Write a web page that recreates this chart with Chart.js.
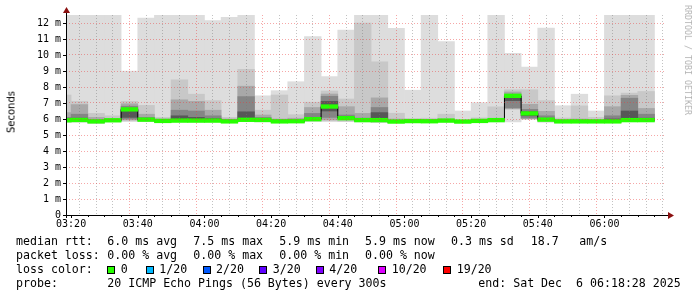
<!DOCTYPE html>
<html><head><meta charset="utf-8">
<script src="https://cdn.jsdelivr.net/npm/chart.js@4.4.1/dist/chart.umd.min.js"></script>
<style>
html,body{margin:0;padding:0;background:#fff;}
#wrap{position:relative;width:697px;height:297px;overflow:hidden;background:#fff;}
canvas{position:absolute;left:0;top:0;}
.t{position:absolute;font-family:'DejaVu Sans Mono',monospace;font-size:11.6px;line-height:14px;white-space:pre;color:#000;}
.box{position:absolute;width:6px;height:6px;border:1px solid #000;}
#ylab{position:absolute;font-family:'DejaVu Sans',sans-serif;font-size:10px;color:#000;transform:translate(-50%,-50%) rotate(-90deg);left:11px;top:112px;white-space:pre;}
#wm{position:absolute;font-family:'DejaVu Sans Mono',monospace;font-size:8.3px;color:#b4b4b4;transform:translate(-50%,-50%) rotate(90deg);left:688px;top:60px;white-space:pre;}
</style></head><body>
<div id="wrap"><canvas id="c" width="697" height="297"></canvas>
<div id="ylab">Seconds</div><div id="wm">RRDTOOL / TOBI OETIKER</div>
</div>
<script>
// ---- data (5-minute slots, values in ms) ----
const slots = ['03:15','03:20','03:25','03:30','03:35','03:40','03:45','03:50','03:55','04:00','04:05','04:10','04:15','04:20','04:25','04:30','04:35','04:40','04:45','04:50','04:55','05:00','05:05','05:10','05:15','05:20','05:25','05:30','05:35','05:40','05:45','05:50','05:55','06:00','06:05','06:10'];
const median = [5.92,5.94,5.85,5.92,6.60,5.96,5.88,5.90,5.90,5.90,5.85,5.95,5.94,5.85,5.86,5.99,6.78,6.05,5.93,5.93,5.84,5.87,5.86,5.90,5.84,5.88,5.93,7.45,6.35,5.96,5.85,5.85,5.85,5.85,5.93,5.93];
const pingMin = [5.80,5.80,5.72,5.82,5.83,5.83,5.82,5.83,5.82,5.82,5.78,5.85,5.82,5.80,5.80,5.85,5.83,5.83,5.82,5.77,5.80,5.80,5.80,5.82,5.78,5.80,5.82,5.82,5.98,5.80,5.80,5.80,5.80,5.80,5.85,5.85];
const pingMax = [13,13,13,13,9.0,12.3,13,13,13,12.15,12.35,13,7.45,7.77,8.33,11.15,8.65,11.55,13,13,11.67,7.8,13,10.84,6.5,7.02,13,10.1,9.25,11.68,6.83,7.55,6.5,13,13,13];
const band2Lo = [5.82,5.82,5.75,5.84,5.90,5.85,5.84,5.85,5.84,5.84,5.80,5.87,5.84,5.82,5.82,5.87,5.90,5.86,5.84,5.80,5.82,5.82,5.82,5.84,5.80,5.82,5.84,6.60,6.00,5.82,5.82,5.82,5.82,5.82,5.87,5.87];
const band2Hi = [7.5,7.1,6.35,6.2,7.1,6.85,6.1,8.45,7.55,7.15,6.1,9.1,6.55,7.5,6.27,7.05,7.75,7.25,12.0,9.57,6.36,6.02,6.05,6.3,5.95,6.07,6.76,7.83,7.83,7.15,6.06,6.82,6.1,7.45,7.62,7.72];
const band3Lo = [5.86,5.88,5.79,5.86,5.95,5.90,5.82,5.84,5.84,5.84,5.79,5.89,5.88,5.79,5.80,5.93,5.95,5.99,5.87,5.87,5.78,5.81,5.80,5.84,5.78,5.82,5.87,6.65,6.03,5.90,5.79,5.79,5.79,5.79,5.87,5.87];
const band3Hi = [6.4,6.9,6.1,6.0,6.95,6.3,6.0,7.2,7.1,6.55,6.0,8.05,6.25,6.0,6.05,6.72,7.56,6.77,6.35,7.32,6.0,5.93,5.95,6.0,5.9,5.95,6.0,7.69,6.92,6.48,5.95,6.0,5.95,6.77,7.48,6.66];
const band4Lo = [5.88,5.90,5.81,5.88,6.00,5.92,5.84,5.86,5.86,5.86,5.81,5.91,5.90,5.81,5.82,5.95,6.10,6.01,5.89,5.89,5.80,5.83,5.82,5.86,5.80,5.84,5.89,6.70,6.06,5.92,5.81,5.81,5.81,5.81,5.89,5.89];
const band4Hi = [6.1,6.3,5.95,5.97,6.8,6.1,5.95,6.55,6.5,6.2,5.95,7.4,6.1,5.95,5.95,6.35,7.42,6.25,6.05,6.72,5.92,5.9,5.9,5.95,5.87,5.9,5.95,7.55,6.6,6.2,5.9,5.92,5.9,6.2,7.3,6.3];
const band5Lo = [5.90,5.92,5.83,5.90,6.10,5.94,5.86,5.88,5.88,5.88,5.83,5.93,5.92,5.83,5.84,5.97,6.50,6.03,5.91,5.91,5.82,5.85,5.84,5.88,5.82,5.86,5.91,7.15,6.20,5.94,5.83,5.83,5.83,5.83,5.91,5.91];
const band5Hi = [6.0,6.05,5.9,5.95,6.65,6.0,5.92,6.2,6.1,6.02,5.9,6.45,5.98,5.9,5.9,6.08,7.1,6.1,5.97,6.4,5.88,5.88,5.88,5.9,5.85,5.88,5.9,7.42,6.45,6.03,5.87,5.88,5.87,6.0,6.5,6.05];
const xTickLabels = ['03:20','03:40','04:00','04:20','04:40','05:00','05:20','05:40','06:00'];
const graphStart = '03:18:28', graphEnd = '06:18:28';
const rttStats = ['6.0 ms avg','7.5 ms max','5.9 ms min','5.9 ms now','0.3 ms sd','18.7','am/s'];
const lossStats = ['0.00 % avg','0.00 % max','0.00 % min','0.00 % now'];
const lossLabels = ['0','1/20','2/20','3/20','4/20','10/20','19/20'];
const lossColors = ['#26ff00','#00b8ff','#0059ff','#5e00ff','#7e00ff','#dd00ff','#ff0000'];
const probeText = '20 ICMP Echo Pings (56 Bytes) every 300s';
const endText = 'end: Sat Dec  6 06:18:28 2025';

// ---- helpers ----
const toMin = s => { const p = s.split(':').map(Number); return p[0]*60 + p[1] + (p[2]||0)/60; };
const fmt = v => { const h = Math.floor(v/60), m = Math.round(v%60); return String(h).padStart(2,'0')+':'+String(m).padStart(2,'0'); };
const STEP = 5;
const slotStart = slots.map(toMin);
const xMin = toMin(graphStart), xMax = toMin(graphEnd);
const majorX = xTickLabels.map(toMin);
const band = (lo, hi) => slotStart.map((t,i) => ({x: t + STEP/2, y: [lo[i], hi[i]]}));
const MED_HALF = 0.115;

const gridMinor = 'rgba(120,120,120,0.45)';
const gridMajor = 'rgba(235,60,60,0.45)';
const isMajX = c => !!(c && c.tick && majorX.includes(c.tick.value));
const isMajY = c => !!(c && c.tick && Number.isInteger(c.tick.value));

const axesPlugin = {
  id: 'axes',
  afterDraw(chart) {
    const {ctx, chartArea: a, scales: {x, y}} = chart;
    ctx.save();
    ctx.strokeStyle = '#000'; ctx.lineWidth = 1;
    ctx.beginPath();
    y.ticks.forEach(t => { if (Number.isInteger(t.value)) { const py = Math.round(y.getPixelForValue(t.value)) + 0.5; ctx.moveTo(a.left - 3, py); ctx.lineTo(a.left, py); } });
    x.ticks.forEach(t => { const px = Math.round(x.getPixelForValue(t.value)) + 0.5; const len = majorX.includes(t.value) ? 3 : 2; ctx.moveTo(px, a.bottom); ctx.lineTo(px, a.bottom + len); });
    ctx.stroke();
    ctx.beginPath();
    ctx.moveTo(a.left + 0.5, a.bottom + 3); ctx.lineTo(a.left + 0.5, a.top - 3);
    ctx.moveTo(a.left - 3, a.bottom + 0.5); ctx.lineTo(a.right + 3, a.bottom + 0.5);
    ctx.stroke();
    ctx.fillStyle = '#8b1010';
    ctx.beginPath();
    ctx.moveTo(a.left + 0.5 - 3.5, a.top - 2); ctx.lineTo(a.left + 0.5 + 3.5, a.top - 2); ctx.lineTo(a.left + 0.5, a.top - 8); ctx.closePath(); ctx.fill();
    ctx.beginPath();
    ctx.moveTo(a.right + 2, a.bottom + 0.5 - 3.5); ctx.lineTo(a.right + 2, a.bottom + 0.5 + 3.5); ctx.lineTo(a.right + 8, a.bottom + 0.5); ctx.closePath(); ctx.fill();
    ctx.restore();
  }
};

new Chart(document.getElementById('c'), {
  type: 'bar',
  data: {
    datasets: [
      {type: 'bar', data: slotStart.map((t,i) => ({x: t + STEP/2, y: [median[i]-MED_HALF, median[i]+MED_HALF]})), backgroundColor: lossColors[0]},
      {type: 'line', data: slotStart.map((t,i) => ({x: t, y: median[i]})).concat([{x: slotStart[slotStart.length-1] + STEP, y: median[median.length-1]}]), stepped: true, borderColor: '#000', borderWidth: 1, pointRadius: 0, fill: false},
      {type: 'bar', data: band(band5Lo, band5Hi), backgroundColor: '#575757'},
      {type: 'bar', data: band(band4Lo, band4Hi), backgroundColor: '#858585'},
      {type: 'bar', data: band(band3Lo, band3Hi), backgroundColor: '#a8a8a8'},
      {type: 'bar', data: band(band2Lo, band2Hi), backgroundColor: '#c8c8c8'},
      {type: 'bar', data: band(pingMin, pingMax), backgroundColor: '#dddddd'}
    ]
  },
  options: {
    responsive: false, animation: false, devicePixelRatio: 1,
    layout: {padding: {left: 0, right: 31, top: 15, bottom: 0}},
    plugins: {legend: {display: false}, tooltip: {enabled: false}},
    datasets: {bar: {grouped: false, barPercentage: 1, categoryPercentage: 1, borderWidth: 0, clip: 0}, line: {clip: 0}},
    scales: {
      x: {
        type: 'linear', bounds: 'data', min: xMin, max: xMax, offset: false,
        afterFit: s => { s.height = 82; },
        afterBuildTicks: s => { s.ticks = slotStart.map(t => t + STEP).filter(v => v > xMin && v < xMax).map(v => ({value: v})); },
        grid: {color: c => isMajX(c) ? gridMajor : gridMinor, lineWidth: 1, drawTicks: false, z: 1},
        border: {display: false, dash: [1, 2]},
        ticks: {autoSkip: false, maxRotation: 0, minRotation: 0, padding: 3, color: '#000', font: {family: 'DejaVu Sans Mono', size: 10},
          callback: v => majorX.includes(v) ? fmt(v) : ''}
      },
      y: {
        type: 'linear', min: 0, max: 12.5,
        afterFit: s => { s.width = 66; },
        grid: {color: c => isMajY(c) ? gridMajor : gridMinor, lineWidth: 1, drawTicks: false, z: 1},
        border: {display: false, dash: [1, 2]},
        ticks: {stepSize: 0.5, padding: 5, color: '#000', font: {family: 'DejaVu Sans Mono', size: 10},
          callback: v => Number.isInteger(v) ? (v === 0 ? '0' : v + ' m') : ''}
      }
    }
  },
  plugins: [axesPlugin]
});

// ---- legend text ----
const wrap = document.getElementById('wrap');
function txt(s, x, top) { const d = document.createElement('div'); d.className = 't'; d.textContent = s; d.style.left = x + 'px'; d.style.top = top + 'px'; wrap.appendChild(d); }
const rows = [234, 248, 262, 276];
txt('median rtt:', 16, rows[0]);
[107.3,193.3,279.3,365,451,530.7,579.3].forEach((x,i) => txt(rttStats[i], x, rows[0]));
txt('packet loss:', 16, rows[1]);
[107.3,193.3,279.3,365].forEach((x,i) => txt(lossStats[i], x, rows[1]));
txt('loss color:', 16, rows[2]);
const boxX = [107,146,202.5,259,316,377.5,442.5], labX = [120.7,159.3,216,272.7,329.3,391.7,456.7];
lossLabels.forEach((l,i) => {
  const b = document.createElement('div'); b.className = 'box'; b.style.left = boxX[i] + 'px'; b.style.top = '265.5px'; b.style.background = lossColors[i]; wrap.appendChild(b);
  txt(l, labX[i], rows[2]);
});
txt('probe:', 16, rows[3]);
txt(probeText, 107.3, rows[3]);
txt(endText, 478.3, rows[3]);
</script>
</body></html>
